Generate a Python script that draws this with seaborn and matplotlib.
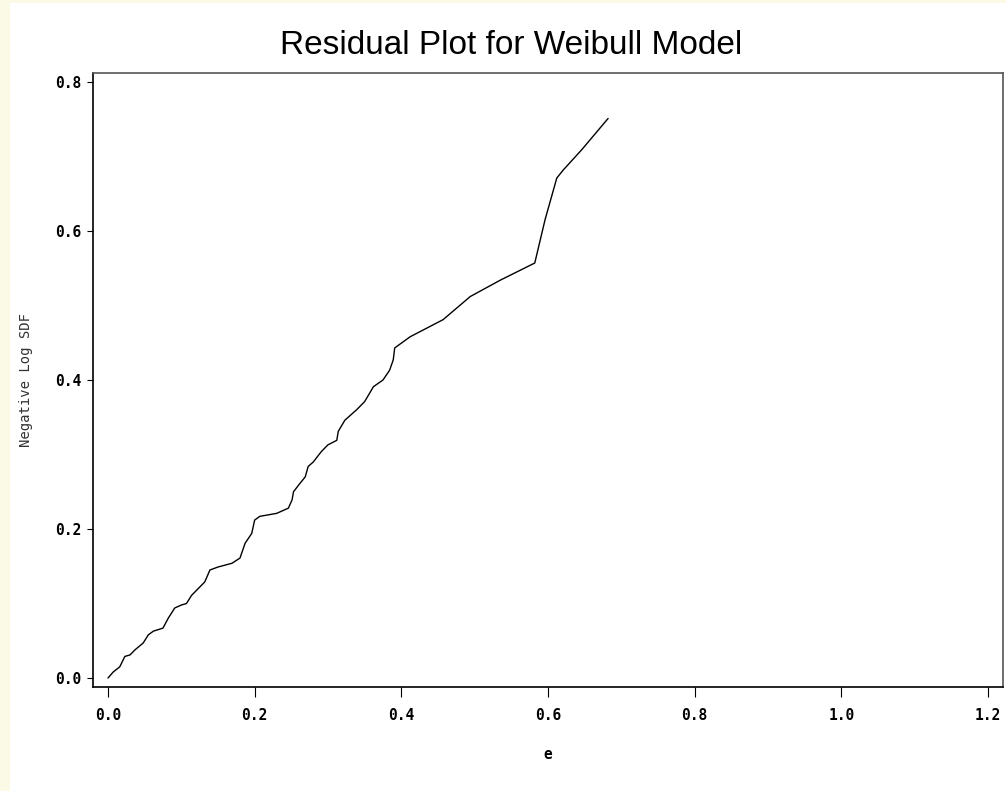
import matplotlib
matplotlib.use("Agg")
import matplotlib.pyplot as plt
import seaborn as sns
import pandas as pd
from matplotlib.patches import Rectangle

# residuals (e) and negative log survivor function
e = [0.000, 0.007, 0.016, 0.023, 0.030, 0.037, 0.048, 0.055, 0.062, 0.075,
     0.082, 0.091, 0.100, 0.107, 0.114, 0.132, 0.139, 0.150, 0.169, 0.180,
     0.187, 0.196, 0.200, 0.207, 0.230, 0.246, 0.251, 0.253, 0.260, 0.269,
     0.273, 0.280, 0.291, 0.300, 0.312, 0.314, 0.323, 0.339, 0.350, 0.362,
     0.375, 0.384, 0.389, 0.391, 0.412, 0.457, 0.494, 0.535, 0.582, 0.596,
     0.612, 0.621, 0.646, 0.682]
neg_log_sdf = [0.000, 0.008, 0.015, 0.029, 0.031, 0.038, 0.047, 0.058, 0.063, 0.067,
               0.080, 0.094, 0.098, 0.100, 0.111, 0.129, 0.145, 0.149, 0.154, 0.161,
               0.181, 0.194, 0.212, 0.217, 0.221, 0.228, 0.239, 0.250, 0.259, 0.270,
               0.284, 0.290, 0.304, 0.313, 0.319, 0.331, 0.346, 0.360, 0.371, 0.391,
               0.400, 0.413, 0.427, 0.443, 0.458, 0.481, 0.512, 0.534, 0.557, 0.615,
               0.671, 0.682, 0.709, 0.751]

x_ticks = [0.0, 0.2, 0.4, 0.6, 0.8, 1.0, 1.2]
y_ticks = [0.0, 0.2, 0.4, 0.6, 0.8]

df = pd.DataFrame({"e": e, "nlsdf": neg_log_sdf})

sns.set_style("white")
fig = plt.figure(figsize=(10.06, 7.91), dpi=100)
fig.patch.set_facecolor("white")

# pale yellow page border on the left and top
fig.patches.append(Rectangle((0, 0), 10 / 1006, 1, transform=fig.transFigure,
                             facecolor="#fafae6", edgecolor="none", zorder=0))
fig.patches.append(Rectangle((0, 1 - 3 / 791), 1, 3 / 791, transform=fig.transFigure,
                             facecolor="#fafae6", edgecolor="none", zorder=0))

ax = fig.add_axes([0.0924, 0.1315, 0.9046, 0.7762])
sns.lineplot(data=df, x="e", y="nlsdf", sort=False, estimator=None,
             color="black", linewidth=1.0, ax=ax)

ax.set_xlim(-0.0205, 1.2205)
ax.set_ylim(-0.012, 0.812)
ax.set_xticks(x_ticks)
ax.set_yticks(y_ticks)
ax.set_xticklabels([f"{v:.1f}" for v in x_ticks], family="DejaVu Sans Mono",
                   fontweight="bold", fontsize=10.5, color="black")
ax.set_yticklabels([f"{v:.1f}" for v in y_ticks], family="DejaVu Sans Mono",
                   fontweight="bold", fontsize=10.5, color="black")
ax.tick_params(axis="x", direction="out", length=7, width=0.8, pad=8,
               bottom=True, color="black")
ax.tick_params(axis="y", direction="out", length=4, width=0.8, pad=4,
               left=True, color="black")

for side in ["left", "bottom"]:
    ax.spines[side].set_color("black")
    ax.spines[side].set_linewidth(1.2)
for side in ["top", "right"]:
    ax.spines[side].set_color("#555555")
    ax.spines[side].set_linewidth(1.2)

ax.set_xlabel("e", family="DejaVu Sans Mono", fontweight="bold", fontsize=10.5,
              color="black")
ax.xaxis.set_label_coords(0.4995, -0.098)
ax.set_ylabel("Negative Log SDF", family="DejaVu Sans Mono", fontsize=10,
              color="#333333")
ax.yaxis.set_label_coords(-0.066, 0.5)

fig.text(0.508, 0.943, "Residual Plot for Weibull Model", ha="center",
         va="center", family="Liberation Sans", fontsize=24, color="black")

fig.savefig("out.png", dpi=100)
